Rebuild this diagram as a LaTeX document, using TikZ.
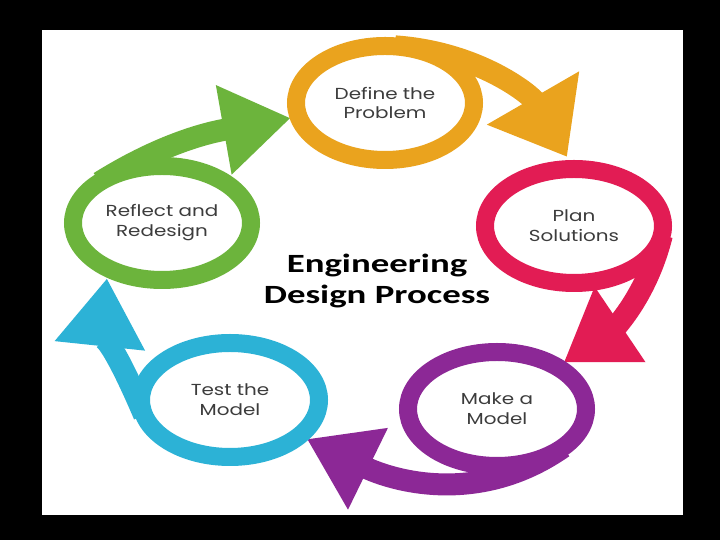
\documentclass[tikz,border=0pt]{standalone}
\usepackage{fontspec}
\setmainfont{Poppins}
\newfontfamily\stagefont[FakeStretch=1.25]{Poppins}
\newfontfamily\titlefont[FakeStretch=1.4]{Carlito}
\usetikzlibrary{shapes.geometric, arrows.meta}
\pgfdeclarelayer{back}
\pgfsetlayers{back,main}
\definecolor{defineorange}{RGB}{234,163,30}
\definecolor{planred}{RGB}{226,28,84}
\definecolor{makepurple}{RGB}{140,40,150}
\definecolor{testblue}{RGB}{44,178,214}
\definecolor{reflectgreen}{RGB}{108,180,60}
\definecolor{stagetext}{RGB}{60,60,60}

\begin{document}
\begin{tikzpicture}[x=1bp, y=1bp]
\tikzstyle{stage} = [ellipse, draw, fill=white, line width=18bp, minimum width=178bp, minimum height=114bp, inner sep=0pt, outer sep=0pt, align=center, text=stagetext, font=\stagefont\fontsize{16}{20}\selectfont]
\tikzstyle{flow} = [line width=22bp, -{Triangle[length=68bp, width=86bp]}, shorten >=8bp]

\begin{pgfonlayer}{back}
\fill[black] (0,0) rectangle (720,540);
\fill[white] (42,25) rectangle (683,510);
\end{pgfonlayer}

\node[stage, draw=defineorange] (define) at (385,437) {Define the\\Problem};
\node[stage, draw=planred] (plan) at (574,314) {Plan\\Solutions};
\node[stage, draw=makepurple] (make) at (497,131) {Make a\\Model};
\node[stage, draw=testblue] (test) at (230,140) {Test the\\Model};
\node[stage, draw=reflectgreen] (reflect) at (162,317) {Reflect and\\Redesign};
\node[font=\titlefont\bfseries\fontsize{26.4}{32}\selectfont, align=center] (title) at (377,259) {Engineering\\Design Process};

\begin{pgfonlayer}{back}
\draw[flow, defineorange, -{Triangle[length=68bp, width=102bp]}, shorten >=14bp] (define.80) to[out=-4, in=120] (plan.north);
\draw[flow, planred] (plan.-6) to[out=-104, in=34] (make.35);
\draw[flow, makepurple] (make.-30) to[out=215, in=-26] (test.-27);
\draw[flow, testblue, shorten >=10bp] (test.190) to[out=113, in=-96] (reflect.220);
\draw[flow, reflectgreen] (reflect.147) to[out=32, in=190] (define.189);
\end{pgfonlayer}
\end{tikzpicture}
\end{document}
